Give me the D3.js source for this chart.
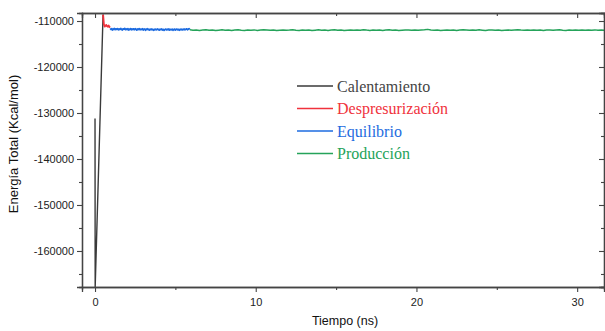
<!DOCTYPE html>
<html>
<head>
<meta charset="utf-8">
<script src="https://cdn.jsdelivr.net/npm/d3@7"></script>
<style>
  body { margin: 0; background: #fff; }
  svg { display: block; }
</style>
</head>
<body>
<div id="chart"></div>
<script>
// --- data ---
const seriesNames = ["Calentamiento", "Despresurización", "Equilibrio", "Producción"];
const seriesColors = ["#3a3a3a", "#f0323c", "#1d6be0", "#25a35a"];

// Calentamiento (heating): time (ns) / energy
const heatTime = [0, 0.01, 0.5];
const heatEnergy = [-131200, -167800, -108600];

// Despresurización: sampled every 0.05 ns from 0.5 ns
const depStart = 0.5, depStep = 0.05;
const depEnergy = [-108600, -110700, -111200, -111000, -110850, -111150, -111250, -111000, -111300, -111400];

// Equilibrio: sampled every 0.05 ns from 0.95 ns
const eqStart = 0.95, eqStep = 0.05;
const eqEnergy = [
  -111600, -111850, -111680, -111950, -111740, -111640, -111880, -111700, -111830, -111660,
  -111920, -111720, -111840, -111620, -111800, -111950, -111700, -111790, -111600, -111880,
  -111740, -111860, -111680, -111970, -111770, -111660, -111900, -111730, -111840, -111700,
  -111890, -111670, -111800, -111990, -111740, -111850, -111650, -111920, -111760, -111870,
  -111700, -111950, -111790, -111740, -112000, -111830, -111680, -111900, -111780, -111960,
  -111830, -111740, -111920, -111800, -112020, -111860, -111760, -111940, -111820, -111730,
  -111910, -111990, -111780, -111890, -111750, -111960, -111820, -112040, -111850, -111760,
  -111940, -111800, -111900, -111740, -111980, -111830, -111910, -111770, -112000, -111860,
  -111780, -111960, -111830, -111750, -111930, -111820, -112000, -111790, -111900, -111760,
  -111940, -111830, -111740, -111920, -111810, -111710, -111890, -111770, -111680, -111830
];

// Producción: sampled every 0.2 ns from 5.9 ns
const prodStart = 5.9, prodStep = 0.2;
const prodEnergy = [
  -111900, -112000, -111950, -112050, -111980, -111900, -112020, -111960, -112080, -111990,
  -111920, -112010, -111950, -112060, -111970, -111890, -111990, -112040, -111960, -112010,
  -111930, -112050, -111980, -111900, -111970, -112030, -111950, -112070, -112000, -111940,
  -112020, -111960, -111880, -111990, -112050, -111970, -112010, -111940, -112060, -111990,
  -111920, -112000, -111960, -112040, -111980, -111910, -112030, -111970, -112080, -112000,
  -111930, -111990, -111950, -112020, -111890, -111980, -112040, -111960, -112010, -111940,
  -112050, -111970, -111920, -112000, -111950, -112060, -111990, -111930, -111980, -112030,
  -111940, -112010, -111960, -111900, -111820, -111950, -112020, -111970, -112060, -111990,
  -111940, -112000, -111960, -112040, -111980, -111910, -111970, -112030, -111950, -112010,
  -111920, -111990, -112050, -111970, -111930, -112000, -111960, -112070, -111990, -111940,
  -112010, -111950, -111890, -111980, -112030, -111960, -112020, -111940, -112000, -111960,
  -112050, -111980, -111930, -112010, -111950, -111900, -111990, -112040, -111960, -112010,
  -111940, -112000, -111970, -112030, -111950, -111990, -111930, -112020, -111970, -112000
];

const xMajorTicks = [0, 10, 20, 30];
const xMinorTicks = [5, 15, 25];
const yMajorTicks = [-110000, -120000, -130000, -140000, -150000, -160000];
const yMinorTicks = [-115000, -125000, -135000, -145000, -155000, -165000];

// --- layout ---
const W = 605, H = 331;
const plot = { left: 82, right: 604, top: 13, bottom: 287 };
const axisColor = "#444";

const svg = d3.select("#chart").append("svg")
  .attr("width", W)
  .attr("height", H);

const x = d3.scaleLinear().domain([-0.81, 31.67]).range([plot.left, plot.right]);
const y = d3.scaleLinear().domain([-167830, -108260]).range([plot.bottom, plot.top]);

const toPoints = (start, step, vals) => vals.map((v, i) => [start + i * step, v]);
const series = [
  heatTime.map((t, i) => [t, heatEnergy[i]]),
  toPoints(depStart, depStep, depEnergy),
  toPoints(eqStart, eqStep, eqEnergy),
  toPoints(prodStart, prodStep, prodEnergy)
];
const lineWidths = [1.4, 1.9, 1.8, 1.5];

svg.append("clipPath").attr("id", "clip")
  .append("rect")
  .attr("x", plot.left).attr("y", plot.top)
  .attr("width", plot.right - plot.left).attr("height", plot.bottom - plot.top);

const line = d3.line().x(d => x(d[0])).y(d => y(d[1]));

svg.append("g").attr("clip-path", "url(#clip)")
  .selectAll("path")
  .data(series)
  .enter()
  .append("path")
  .attr("fill", "none")
  .attr("stroke", (d, i) => seriesColors[i])
  .attr("stroke-width", (d, i) => lineWidths[i])
  .attr("stroke-linejoin", "round")
  .attr("d", line);

// --- axes ---
function styleAxis(g, labels) {
  g.select(".domain").attr("stroke", axisColor).attr("stroke-width", 1.3);
  g.selectAll(".tick line").attr("stroke", axisColor).attr("stroke-width", 1.1);
  g.selectAll(".tick text")
    .attr("fill", "#222")
    .style("font-family", "'Liberation Sans', Arial, sans-serif")
    .style("font-size", "11px");
  if (!labels) g.selectAll(".tick text").remove();
}

const fmt = d => String(d);

// bottom
svg.append("g").attr("transform", `translate(0,${plot.bottom})`)
  .call(d3.axisBottom(x).tickValues(xMajorTicks).tickSize(5).tickPadding(6).tickFormat(fmt))
  .call(g => styleAxis(g, true));
svg.append("g").attr("transform", `translate(0,${plot.bottom})`)
  .call(d3.axisBottom(x).tickValues(xMinorTicks).tickSize(3))
  .call(g => styleAxis(g, false));

// top (ticks inward)
svg.append("g").attr("transform", `translate(0,${plot.top})`)
  .call(d3.axisTop(x).tickValues(xMajorTicks).tickSize(-5))
  .call(g => styleAxis(g, false));
svg.append("g").attr("transform", `translate(0,${plot.top})`)
  .call(d3.axisTop(x).tickValues(xMinorTicks).tickSize(-3))
  .call(g => styleAxis(g, false));

// left
svg.append("g").attr("transform", `translate(${plot.left},0)`)
  .call(d3.axisLeft(y).tickValues(yMajorTicks).tickSize(5).tickPadding(3).tickFormat(fmt))
  .call(g => styleAxis(g, true));
svg.append("g").attr("transform", `translate(${plot.left},0)`)
  .call(d3.axisLeft(y).tickValues(yMinorTicks).tickSize(3))
  .call(g => styleAxis(g, false));

// right (ticks inward)
svg.append("g").attr("transform", `translate(${plot.right},0)`)
  .call(d3.axisRight(y).tickValues(yMajorTicks).tickSize(-5))
  .call(g => styleAxis(g, false));
svg.append("g").attr("transform", `translate(${plot.right},0)`)
  .call(d3.axisRight(y).tickValues(yMinorTicks).tickSize(-3))
  .call(g => styleAxis(g, false));

// axis titles
svg.append("text")
  .attr("x", 345)
  .attr("y", 325)
  .attr("text-anchor", "middle")
  .style("font-family", "'Liberation Sans', Arial, sans-serif")
  .style("font-size", "12.5px")
  .attr("fill", "#111")
  .text("Tiempo (ns)");

svg.append("text")
  .attr("transform", "translate(18,144) rotate(-90)")
  .attr("text-anchor", "middle")
  .style("font-family", "'Liberation Sans', Arial, sans-serif")
  .style("font-size", "13px")
  .attr("fill", "#111")
  .text("Energía Total (Kcal/mol)");

// --- legend ---
const legend = svg.append("g").attr("transform", "translate(297,86)");
const rows = legend.selectAll("g")
  .data(seriesNames)
  .enter()
  .append("g")
  .attr("transform", (d, i) => `translate(0,${i * 22.5})`);

rows.append("line")
  .attr("x1", 0).attr("x2", 36)
  .attr("y1", 0).attr("y2", 0)
  .attr("stroke", (d, i) => seriesColors[i])
  .attr("stroke-width", 1.5);

rows.append("text")
  .attr("x", 40)
  .attr("y", 5.5)
  .style("font-family", "'Liberation Serif', 'Times New Roman', serif")
  .style("font-size", "16px")
  .attr("fill", (d, i) => i == 0 ? "#444" : seriesColors[i])
  .text(d => d);
</script>
</body>
</html>
